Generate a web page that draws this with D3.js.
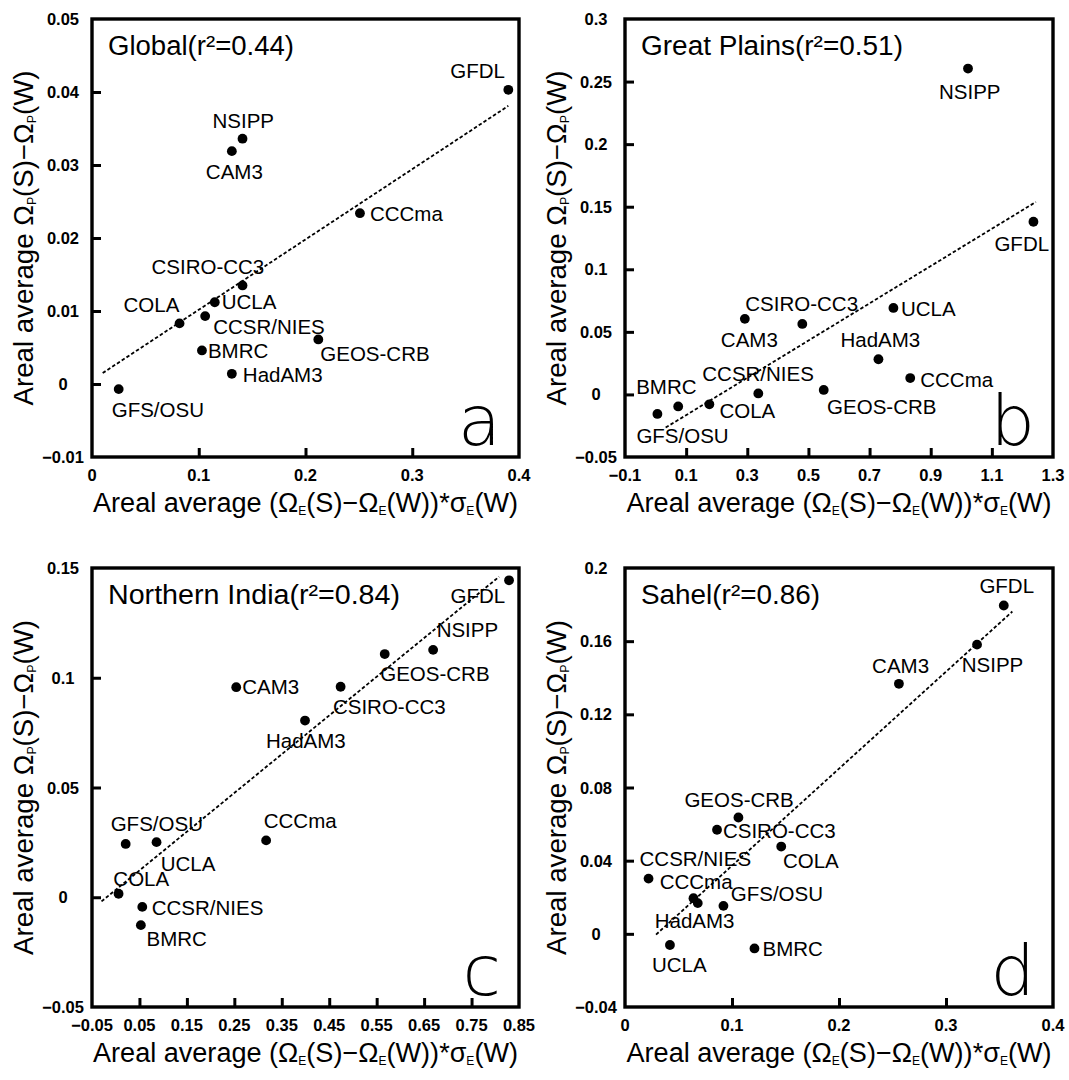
<!DOCTYPE html>
<html><head><meta charset="utf-8">
<script src="https://cdn.jsdelivr.net/npm/d3@7"></script>
<style>body{margin:0;background:#fff} svg{display:block}</style>
</head><body><svg id="chart" width="1069" height="1080"></svg>
<script>
// ---------------- DATA ----------------
const models = ["GFDL","NSIPP","CAM3","CCCma","CSIRO-CC3","UCLA","COLA","CCSR/NIES","BMRC","GEOS-CRB","HadAM3","GFS/OSU"];

const globalX = [0.390, 0.141, 0.131, 0.251, 0.141, 0.115, 0.082, 0.106, 0.103, 0.212, 0.131, 0.025];
const globalY = [0.0403, 0.0336, 0.0319, 0.0234, 0.0135, 0.0112, 0.0083, 0.0093, 0.0046, 0.0061, 0.0014, -0.0007];

const plainsX = [1.236, 1.022, 0.292, 0.833, 0.480, 0.778, 0.176, 0.336, 0.074, 0.550, 0.729, 0.006];
const plainsY = [0.138, 0.2604, 0.0604, 0.0131, 0.0563, 0.0691, -0.0079, 0.0008, -0.0096, 0.0036, 0.0281, -0.0156];

const indiaX = [0.829, 0.669, 0.254, 0.317, 0.474, 0.086, 0.006, 0.056, 0.053, 0.567, 0.399, 0.021];
const indiaY = [0.1444, 0.1127, 0.0957, 0.0259, 0.0959, 0.0251, 0.0016, -0.0044, -0.0127, 0.1108, 0.0805, 0.0243];

const sahelX = [0.354, 0.329, 0.256, 0.064, 0.086, 0.042, 0.146, 0.022, 0.121, 0.106, 0.068, 0.092];
const sahelY = [0.1795, 0.1581, 0.1367, 0.0195, 0.0569, -0.0061, 0.0477, 0.0302, -0.0080, 0.0636, 0.0168, 0.0153];

// regression (fit) line end points
const globalFitX = [0.010, 0.390], globalFitY = [0.0015, 0.0381];
const plainsFitX = [0.033, 1.244], plainsFitY = [-0.0265, 0.1538];
const indiaFitX  = [-0.030, 0.808], indiaFitY  = [-0.0019, 0.1460];
const sahelFitX  = [0.029, 0.362], sahelFitY  = [-0.0004, 0.1762];

// axis ticks
const globalXTicks = [0, 0.1, 0.2, 0.3, 0.4];
const globalYTicks = [-0.01, 0, 0.01, 0.02, 0.03, 0.04, 0.05];
const plainsXTicks = [-0.1, 0.1, 0.3, 0.5, 0.7, 0.9, 1.1, 1.3];
const plainsYTicks = [-0.05, 0, 0.05, 0.1, 0.15, 0.2, 0.25, 0.3];
const indiaXTicks  = [-0.05, 0.05, 0.15, 0.25, 0.35, 0.45, 0.55, 0.65, 0.75, 0.85];
const indiaYTicks  = [-0.05, 0, 0.05, 0.1, 0.15];
const sahelXTicks  = [0, 0.1, 0.2, 0.3, 0.4];
const sahelYTicks  = [-0.04, 0, 0.04, 0.08, 0.12, 0.16, 0.2];

const titles = ["Global(r²=0.44)", "Great Plains(r²=0.51)", "Northern India(r²=0.84)", "Sahel(r²=0.86)"];
const letters = ["a", "b", "c", "d"];

// ---------------- LAYOUT / STYLE ----------------
const boxes = [[92,19,519,457],[625,19,1053,457],[92,568,519,1007],[625,568,1053,1007]];
const titleWidths = [186, 262, 292, 179];
// label offsets (px) relative to each point: [dx, dy-baseline]
const labelOffsets = [
  [[-58,-12],[-30,-11],[-26,28],[10,8],[-91,-11],[7,6.5],[-56,-11],[8,18],[6,7.6],[2,22],[11,8.6],[-7,28]],
  [[-39,29],[-29,30],[-24,28],[10,8.6],[-57,-13],[7.6,8],[10,14],[-56,-12],[-42,-12],[3.4,24],[-38,-12],[-21,28.6]],
  [[-58.5,23],[3.5,-13],[6,7.3],[-2.4,-12.2],[-7.7,27.5],[4.2,28.9],[-5.2,-7.7],[9.4,7.7],[5.6,20.9],[-4.5,26.5],[-39,27.5],[-15,-12.9]],
  [[-24.4,-12.5],[-15.3,27.8],[-26.8,-11.1],[-33.8,-8.7],[5.9,8.7],[-18,27],[1.7,21.6],[-9,-12.2],[8,7.7],[-54,-10.4],[-43,24.4],[7.3,-4.5]]
];

const panels = [
  {xs: globalX, ys: globalY, fx: globalFitX, fy: globalFitY, xt: globalXTicks, yt: globalYTicks},
  {xs: plainsX, ys: plainsY, fx: plainsFitX, fy: plainsFitY, xt: plainsXTicks, yt: plainsYTicks},
  {xs: indiaX,  ys: indiaY,  fx: indiaFitX,  fy: indiaFitY,  xt: indiaXTicks,  yt: indiaYTicks},
  {xs: sahelX,  ys: sahelY,  fx: sahelFitX,  fy: sahelFitY,  xt: sahelXTicks,  yt: sahelYTicks}
];

const FONT = "'Liberation Sans', Arial, Helvetica, sans-serif";
const fmt = v => { const s = String(+v.toFixed(4)); return s.replace("-", "\u2212"); };

const svg = d3.select("#chart");

panels.forEach((p, i) => {
  const [L, T, R, B] = boxes[i];
  const x = d3.scaleLinear().domain(d3.extent(p.xt)).range([L, R]);
  const y = d3.scaleLinear().domain(d3.extent(p.yt)).range([B, T]);
  const g = svg.append("g");

  // inward ticks via d3 axes
  const innerX = p.xt.slice(1, -1), innerY = p.yt.slice(1, -1);
  const ax = g.append("g").attr("transform", `translate(0,${B})`)
    .call(d3.axisBottom(x).tickValues(innerX).tickSize(-9).tickFormat(""));
  const ay = g.append("g").attr("transform", `translate(${L},0)`)
    .call(d3.axisLeft(y).tickValues(innerY).tickSize(-9).tickFormat(""));
  [ax, ay].forEach(a => {
    a.select(".domain").remove();
    a.selectAll(".tick line").attr("stroke", "#000").attr("stroke-width", 3);
  });

  // frame
  g.append("rect").attr("x", L).attr("y", T).attr("width", R - L).attr("height", B - T)
    .attr("fill", "none").attr("stroke", "#000").attr("stroke-width", 3.4);

  // tick labels
  g.selectAll(".xl").data(p.xt).join("text")
    .attr("x", d => x(d)).attr("y", B + 24)
    .attr("text-anchor", "middle").attr("font-family", FONT).attr("font-weight", "bold")
    .attr("font-size", 16.5).text(fmt);
  g.selectAll(".yl").data(p.yt).join("text")
    .attr("x", L - 29).attr("y", d => y(d) + 6)
    .attr("text-anchor", "middle").attr("font-family", FONT).attr("font-weight", "bold")
    .attr("font-size", 16.5).text(fmt);

  // fit line
  const fit = p.fx.map((v, k) => [v, p.fy[k]]);
  g.append("path").datum(fit)
    .attr("d", d3.line().x(d => x(d[0])).y(d => y(d[1])))
    .attr("fill", "none").attr("stroke", "#000").attr("stroke-width", 1.8)
    .attr("stroke-dasharray", "3.5,2.2");

  // points
  const pts = models.map((m, k) => ({m, xv: p.xs[k], yv: p.ys[k], off: labelOffsets[i][k]}));
  g.selectAll(".pt").data(pts).join("circle")
    .attr("cx", d => x(d.xv)).attr("cy", d => y(d.yv)).attr("r", 4.9).attr("fill", "#000");
  g.selectAll(".lab").data(pts).join("text")
    .attr("x", d => x(d.xv) + d.off[0]).attr("y", d => y(d.yv) + d.off[1])
    .attr("font-family", FONT).attr("font-size", 20.5).attr("fill", "#000").text(d => d.m);

  // title
  g.append("text").attr("x", L + 16).attr("y", T + 36)
    .attr("font-family", FONT).attr("font-size", 27)
    .attr("textLength", titleWidths[i]).attr("lengthAdjust", "spacingAndGlyphs")
    .text(titles[i]);

  // panel letter
  g.append("text").attr("x", R - 18).attr("y", B - 12).attr("text-anchor", "end")
    .attr("font-family", "'DejaVu Sans', sans-serif").attr("font-weight", 200)
    .attr("font-size", 70).text(letters[i]);

  // x axis title
  const xt = g.append("text").attr("x", (L + R) / 2).attr("y", B + 55).attr("text-anchor", "middle")
    .attr("font-family", FONT).attr("font-size", 27)
    .attr("textLength", 425).attr("lengthAdjust", "spacingAndGlyphs");
  const sub = (t, s) => { t.append("tspan").attr("font-size", 12).attr("dy", 3).text(s); };
  xt.append("tspan").text("Areal  average  (\u03A9");
  sub(xt, "E");
  xt.append("tspan").attr("dy", -3).text("(S)\u2212\u03A9");
  sub(xt, "E");
  xt.append("tspan").attr("dy", -3).text("(W))*\u03C3");
  sub(xt, "E");
  xt.append("tspan").attr("dy", -3).text("(W)");

  // y axis title
  const cy = (T + B) / 2;
  const yt = g.append("text").attr("transform", `translate(${L - 59},${cy}) rotate(-90)`)
    .attr("text-anchor", "middle").attr("font-family", FONT).attr("font-size", 27)
    .attr("textLength", 335).attr("lengthAdjust", "spacingAndGlyphs");
  yt.append("tspan").text("Areal  average  \u03A9");
  sub(yt, "P");
  yt.append("tspan").attr("dy", -3).text("(S)\u2212\u03A9");
  sub(yt, "P");
  yt.append("tspan").attr("dy", -3).text("(W)");
});
</script></body></html>
